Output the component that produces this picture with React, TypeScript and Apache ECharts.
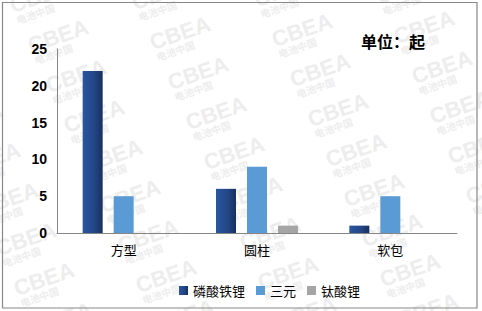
import React, { useEffect, useRef } from "react";
import * as echarts from "echarts";

const categories = ["方型", "圆柱", "软包"];
const seriesNames = ["磷酸铁锂", "三元", "钛酸锂"];
const lfpValues = [22, 6, 1];
const ncmValues = [5, 9, 5];
const ltoValues = [0, 1, 0];
const unitLabel = "单位：起";

function buildWatermarks() {
  const items: any[] = [];
  for (let i = -3; i <= 4; i++) {
    for (let j = -2; j <= 8; j++) {
      const x = 180 + 122 * i + 18 * j;
      const y = 33 - 3 * i + 40 * j;
      if (x < -60 || x > 540 || y < -30 || y > 340) continue;
      items.push({
        type: "group",
        x,
        y,
        rotation: 0.33,
        silent: true,
        z: -10,
        children: [
          {
            type: "text",
            x: 0,
            y: 0,
            z: -10,
            silent: true,
            style: {
              text: "CBEA",
              fill: "#ededed",
              font: "bold 22px 'Liberation Sans', Arial, sans-serif",
              textAlign: "center",
              textVerticalAlign: "middle",
            },
          },
          {
            type: "text",
            x: -10,
            y: 15,
            z: -10,
            silent: true,
            style: {
              text: "电池中国",
              fill: "#ededed",
              font: "bold 10px 'Noto Sans CJK SC', sans-serif",
              textAlign: "center",
              textVerticalAlign: "middle",
            },
          },
        ],
      });
    }
  }
  return items;
}

export default function App() {
  const ref = useRef<HTMLDivElement>(null);
  useEffect(() => {
    if (!ref.current) return;
    const chart = echarts.init(ref.current, null, { renderer: "svg" });
    const darkBlue = new echarts.graphic.LinearGradient(0, 0, 1, 0, [
      { offset: 0, color: "#2a55a0" },
      { offset: 0.6, color: "#224685" },
      { offset: 1, color: "#182f5e" },
    ]);
    chart.setOption({
      animation: false,
      backgroundColor: "#ffffff",
      grid: { left: 57, right: 25, top: 49, bottom: 78, containLabel: false },
      legend: {
        left: 174,
        top: 279,
        itemWidth: 9,
        itemHeight: 9,
        itemGap: 11,
        icon: "rect",
        data: seriesNames,
        textStyle: {
          fontFamily: "'Noto Sans CJK SC', sans-serif",
          fontSize: 13,
          color: "#000",
        },
      },
      xAxis: {
        type: "category",
        data: categories,
        axisLine: { show: true, lineStyle: { color: "#868686", width: 1 } },
        axisTick: { show: false },
        axisLabel: {
          color: "#000",
          fontSize: 13,
          margin: 10,
          fontFamily: "'Noto Sans CJK SC', sans-serif",
        },
        splitLine: { show: false },
      },
      yAxis: {
        type: "value",
        min: 0,
        max: 25,
        interval: 5,
        axisLine: { show: true, lineStyle: { color: "#868686", width: 1 } },
        axisTick: { show: false },
        splitLine: { show: false },
        axisLabel: {
          color: "#000",
          fontSize: 14,
          fontWeight: "bold",
          margin: 10,
          fontFamily: "'Liberation Sans', Arial, sans-serif",
        },
      },
      series: [
        {
          name: seriesNames[0],
          type: "bar",
          data: lfpValues,
          barWidth: 20,
          barGap: "55%",
          itemStyle: { color: darkBlue },
        },
        {
          name: seriesNames[1],
          type: "bar",
          data: ncmValues,
          barWidth: 20,
          barGap: "55%",
          itemStyle: { color: "#5b9bd5" },
        },
        {
          name: seriesNames[2],
          type: "bar",
          data: ltoValues,
          barWidth: 20,
          barGap: "55%",
          itemStyle: { color: "#a5a5a5" },
        },
      ],
      graphic: [
        ...buildWatermarks(),
        {
          type: "text",
          x: 393,
          y: 41,
          z: 100,
          style: {
            text: unitLabel,
            fill: "#000",
            font: "bold 16px 'Noto Sans CJK SC', sans-serif",
            textAlign: "center",
            textVerticalAlign: "middle",
          },
        },
        {
          type: "rect",
          z: 100,
          silent: true,
          shape: { x: 2.5, y: 2.5, width: 474.5, height: 305.5 },
          style: { fill: "none", stroke: "#888888", lineWidth: 1.2 },
        },
      ],
    });
    return () => chart.dispose();
  }, []);
  return (
    <div
      ref={ref}
      style={{ position: "fixed", left: 0, top: 0, width: 482, height: 311 }}
    />
  );
}
